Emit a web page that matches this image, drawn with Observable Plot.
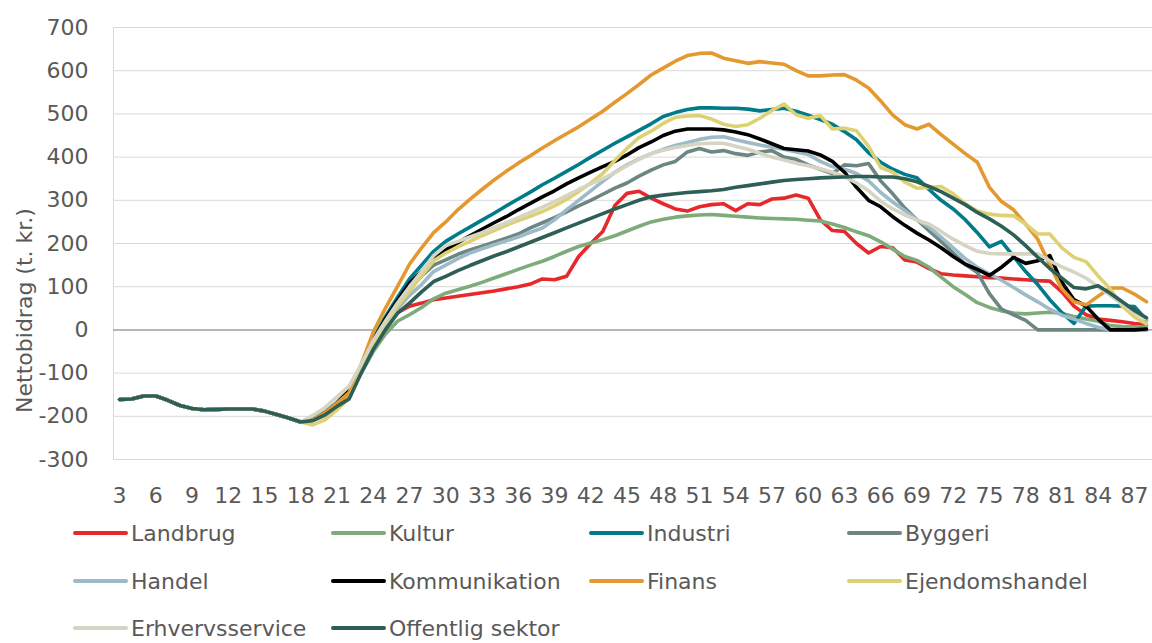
<!DOCTYPE html>
<html><head><meta charset="utf-8">
<script src="https://cdn.jsdelivr.net/npm/d3@7"></script>
<script src="https://cdn.jsdelivr.net/npm/@observablehq/plot@0.6"></script>
<style>
body{margin:0;background:#fff;font-family:"DejaVu Sans",sans-serif;}
#wrap{position:relative;width:1152px;height:643px;overflow:hidden;background:#fff;}
#wrap svg{position:absolute;left:0;top:0;}
.leg{position:absolute;display:flex;align-items:center;height:30px;font-size:22px;color:#595959;white-space:nowrap;}
.sw{width:55px;height:4px;border-radius:2px;margin-right:3px;flex:none;}
</style></head><body><div id="wrap"></div>
<script>
const ages = [3,4,5,6,7,8,9,10,11,12,13,14,15,16,17,18,19,20,21,22,23,24,25,26,27,28,29,30,31,32,33,34,35,36,37,38,39,40,41,42,43,44,45,46,47,48,49,50,51,52,53,54,55,56,57,58,59,60,61,62,63,64,65,66,67,68,69,70,71,72,73,74,75,76,77,78,79,80,81,82,83,84,85,86,87,88];
const xTicks = [3,6,9,12,15,18,21,24,27,30,33,36,39,42,45,48,51,54,57,60,63,66,69,72,75,78,81,84,87];
const yTicks = [-300,-200,-100,0,100,200,300,400,500,600,700];
const seriesNames = ["Landbrug","Kultur","Industri","Byggeri","Handel","Kommunikation","Finans","Ejendomshandel","Erhvervsservice","Offentlig sektor"];
const seriesColors = ["#e8292b","#7dab79","#007b8a","#6c8682","#9dbac8","#000000","#e3992f","#ddd173","#d6d4c3","#2e5f56"];

const landbrug = [-161,-160,-153,-153,-163,-175,-182,-185,-184,-183,-183,-183,-188,-196,-204,-213,
 -207,-190,-170,-140,-82,-33,5,40,
 55,62,70,74,78,82,86,90,95,100,106,118,116,124,170,200,228,288,316,321,305,
 292,280,275,285,290,292,276,292,290,303,305,312,305,255,230,228,200,178,193,
 190,162,157,142,130,127,125,123,121,120,118,116,114,113,88,55,35,25,22,19,15,12];
const kultur = [-161,-160,-153,-153,-163,-175,-182,-185,-184,-183,-183,-183,-188,-196,-204,-213,
 -208,-195,-175,-155,-100,-50,-10,20,
 35,52,72,85,93,101,110,120,130,140,150,159,170,182,193,201,209,218,229,240,250,
 256,261,264,266,267,265,263,261,259,258,257,256,254,252,245,237,227,218,204,
 187,170,161,145,122,100,82,63,52,44,39,37,39,41,38,31,25,20,10,8,7,6];
const industri = [-161,-160,-153,-153,-163,-175,-182,-185,-184,-183,-183,-183,-188,-196,-204,-213,
 -207,-190,-170,-140,-85,-20,30,75,
 118,150,182,205,222,238,254,270,287,303,319,336,351,367,383,400,416,432,447,462,477,
 494,503,510,514,514,513,513,511,507,510,513,506,497,487,476,459,440,410,388,
 372,360,352,325,300,280,255,225,192,205,170,135,105,70,40,15,55,56,56,55,54,23];
const byggeri = [-161,-160,-153,-153,-163,-175,-182,-185,-184,-183,-183,-183,-188,-196,-204,-213,
 -207,-190,-168,-138,-88,-32,15,55,
 95,125,150,162,175,185,194,203,212,222,236,248,260,273,287,300,314,328,340,356,370,
 382,390,412,420,412,415,408,404,412,415,400,395,382,372,362,382,380,385,345,
 315,282,255,230,205,178,152,133,84,48,35,22,0,0,0,0,0,0,0,0,0,0];
const handel = [-161,-160,-153,-153,-163,-175,-182,-185,-184,-183,-183,-183,-188,-196,-204,-213,
 -205,-190,-168,-140,-88,-35,10,48,
 80,105,135,150,165,178,188,197,206,215,226,236,255,278,300,322,344,365,382,396,408,
 418,427,434,441,446,447,440,434,428,423,418,412,406,390,378,372,362,345,318,
 296,276,255,238,215,190,165,145,130,115,98,81,65,48,34,25,15,6,0,0,0,0];
const kommunikation = [-161,-160,-153,-153,-163,-175,-182,-185,-184,-183,-183,-183,-188,-196,-204,-213,
 -208,-192,-170,-140,-85,-25,25,68,
 108,135,165,185,202,218,233,248,262,278,293,308,322,338,352,365,378,390,405,422,435,
 450,460,465,465,465,463,458,452,442,431,420,417,414,405,390,365,330,300,285,
 262,242,224,208,190,170,152,140,126,145,168,154,160,172,110,70,55,25,0,0,0,2];
const finans = [-161,-160,-153,-153,-163,-175,-182,-185,-184,-183,-183,-183,-188,-196,-204,-213,
 -208,-192,-170,-145,-80,-5,50,100,
 152,190,225,250,278,302,325,347,367,386,403,421,438,454,470,488,506,527,547,568,590,
 606,622,635,640,641,629,623,617,621,618,615,600,588,588,590,591,578,560,530,
 497,475,465,476,452,430,408,388,330,297,278,245,210,150,95,65,58,78,97,97,83,65];
const ejendomshandel = [-161,-160,-153,-153,-163,-175,-182,-185,-184,-183,-183,-183,-188,-196,-204,-213,
 -220,-208,-185,-158,-95,-35,15,55,
 90,125,160,178,192,205,218,230,242,253,263,274,287,302,320,340,362,392,420,445,460,
 478,492,495,496,488,476,471,475,490,508,523,498,490,496,465,467,461,425,376,
 365,342,328,330,332,315,292,275,268,265,264,245,222,222,190,168,158,125,95,55,30,14];
const erhvervsservice = [-161,-160,-153,-153,-163,-175,-182,-185,-184,-183,-183,-183,-188,-196,-204,-213,
 -198,-180,-155,-130,-80,-25,20,62,
 100,135,172,195,205,215,225,237,248,260,272,284,297,311,325,338,350,364,380,395,408,
 416,422,427,431,432,432,425,418,409,400,393,386,380,373,365,355,340,322,298,
 280,266,254,245,228,210,195,182,177,176,176,176,176,160,146,134,120,100,80,60,40,25];
const offentlig = [-161,-160,-153,-153,-163,-175,-182,-185,-184,-183,-183,-183,-188,-196,-204,-213,
 -210,-197,-177,-160,-100,-45,0,38,
 62,88,112,124,137,149,160,171,181,192,203,214,225,236,247,258,269,280,290,300,308,
 312,315,318,320,322,325,330,334,338,342,346,348,350,352,353,354,355,355,354,
 354,350,343,332,320,305,290,272,257,240,220,195,168,142,120,98,95,102,85,65,45,28];

const seriesValues = [landbrug,kultur,industri,byggeri,handel,kommunikation,finans,ejendomshandel,erhvervsservice,offentlig];
const rows = [];
seriesNames.forEach((name, si) => {
  seriesValues[si].forEach((v, i) => rows.push({series: name, age: ages[i], value: v}));
});

const chart = Plot.plot({
  width: 1152, height: 512,
  marginLeft: 113, marginRight: 0, marginTop: 27, marginBottom: 53,
  style: {fontFamily: "DejaVu Sans, sans-serif", fontSize: "22px", color: "#595959", background: "transparent", overflow: "visible"},
  x: {domain: [2.5, 88.5], ticks: xTicks, tickFormat: d => String(d), tickSize: 0, tickPadding: 28, label: null},
  y: {domain: [-300, 700], ticks: yTicks, tickFormat: d => String(d), tickSize: 0, tickPadding: 25, label: null},
  color: {domain: seriesNames, range: seriesColors},
  marks: [
    Plot.gridY(yTicks, {stroke: "#d9d9d9", strokeOpacity: 1, strokeWidth: 1}),
    Plot.frame({stroke: "#d9d9d9", strokeWidth: 1}),
    Plot.ruleY([0], {stroke: "#a6a6a6", strokeWidth: 1.5}),
    Plot.line(rows, {x: "age", y: "value", z: "series", stroke: "series", strokeWidth: 3.6, strokeLinejoin: "round", strokeLinecap: "round"}),
    Plot.text(["Nettobidrag (t. kr.)"], {frameAnchor: "left", dx: -89, dy: 67, rotate: -90, textAnchor: "middle", fontSize: 22, fill: "#595959"})
  ]
});
const wrap = document.getElementById("wrap");
wrap.appendChild(chart);

const rowY = [533, 581, 628];
const colX = [73, 331, 589, 847];
seriesNames.forEach((name, i) => {
  const r = Math.floor(i / 4), c = i % 4;
  const d = document.createElement("div");
  d.className = "leg";
  d.style.left = colX[c] + "px";
  d.style.top = (rowY[r] - 15) + "px";
  const sw = document.createElement("span");
  sw.className = "sw";
  sw.style.background = seriesColors[i];
  const t = document.createElement("span");
  t.textContent = name;
  d.appendChild(sw); d.appendChild(t);
  wrap.appendChild(d);
});
</script></body></html>
